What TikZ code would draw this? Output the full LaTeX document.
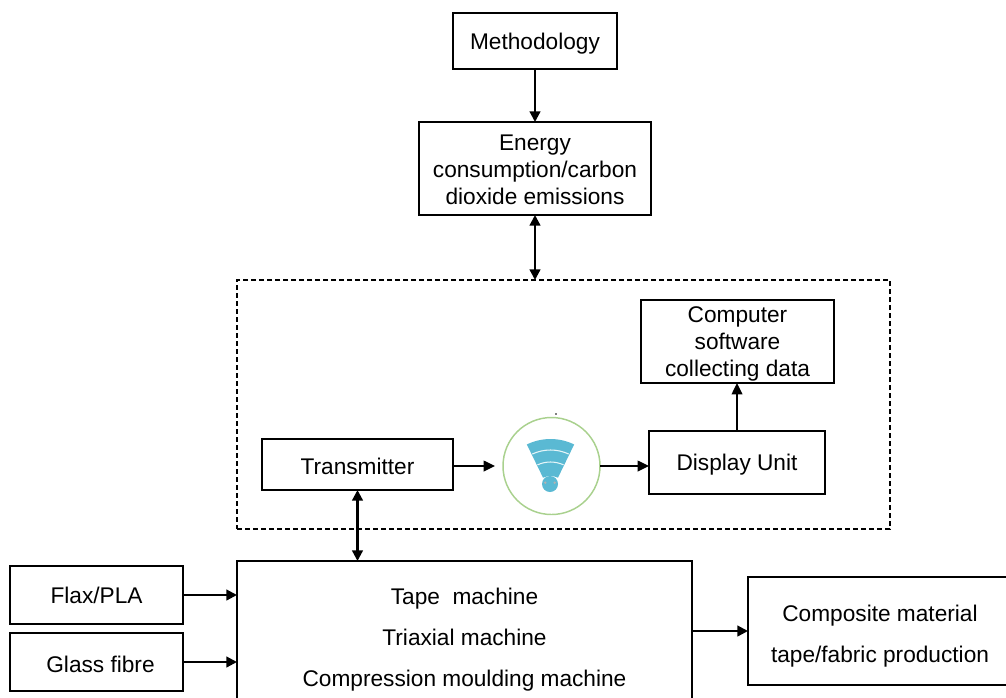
\documentclass[tikz,border=0pt]{standalone}
\usepackage{fontspec}
\setmainfont{Liberation Sans}
\usetikzlibrary{arrows.meta}
\definecolor{wifiblue}{HTML}{5AB9D3}
\definecolor{wifigreen}{HTML}{A9D18E}
\newcommand{\firstline}[1]{\rule{0pt}{#1}}
\tikzset{
	blockbox/.style={draw,line width=1.1pt,align=center,inner sep=0pt,outer sep=0pt,font=\fontsize{17}{20.25}\selectfont},
	wideline/.style={font=\fontsize{17}{30.75}\selectfont},
	link/.style={-{Triangle[length=8pt,width=8pt]},line width=1.7pt},
	thinlink/.style={-{Triangle[length=8.5pt,width=8pt]},line width=1.1pt},
	twolink/.style={{Triangle[length=8pt,width=8pt]}-{Triangle[length=8pt,width=8pt]},line width=1.7pt},
}
\begin{document}
\begin{tikzpicture}[x=0.75pt,y=-0.75pt]
\useasboundingbox (0,0) rectangle (1006,697);

\node[blockbox,minimum width=123pt,minimum height=42pt] (method) at (535,41) {\firstline{16.9pt}Methodology};
\node[blockbox,minimum width=174pt,minimum height=69.75pt] (energy) at (535,168.5) {\firstline{13.9pt}Energy\\consumption/carbon\\dioxide emissions};
\node[draw,line width=1.1pt,dash pattern=on 4pt off 2pt,inner sep=0pt,outer sep=0pt,minimum width=489.75pt,minimum height=186.75pt] (sensing) at (563.5,404.5) {};
\node[blockbox,minimum width=144.75pt,minimum height=62.25pt] (computer) at (737.5,341.5) {\firstline{15.4pt}Computer\\software\\collecting data};
\node[blockbox,minimum width=132pt,minimum height=47.25pt] (display) at (737,462.5) {\firstline{16.2pt}Display Unit};
\node[blockbox,minimum width=143.25pt,minimum height=38.25pt] (transmitter) at (357.5,464.5) {\firstline{15pt}Transmitter};
\node[draw=wifigreen,line width=1.1pt,circle,inner sep=0pt,outer sep=0pt,minimum size=72.75pt] (wifi) at (551.5,466) {};
\node[blockbox,wideline,minimum width=341.25pt,minimum height=113.25pt] (machines) at (464.5,636.5) {\firstline{16.9pt}Tape\ \ machine\\Triaxial machine\\Compression moulding machine};
\node[blockbox,minimum width=129.75pt,minimum height=43.5pt] (flax) at (96.5,595) {Flax/PLA};
\node[blockbox,minimum width=129.75pt,minimum height=43.5pt] (glass) at (96.5,662) {\firstline{16pt}\hspace{6pt}Glass fibre};
\node[blockbox,wideline,minimum width=198pt,minimum height=81pt] (composite) at (880,631) {\firstline{19.9pt}Composite material\\tape/fabric production};

% wifi sign
\begin{scope}[shift={(550.5,493)},y=0.75pt]
	\fill[wifiblue] (64:17) -- (64:54) arc (64:116:54) -- (116:17) arc (116:64:17) -- cycle;
	\foreach \r in {43,31}
		\draw[white!85!wifiblue,line width=0.8pt] (65:\r) arc (65:115:\r);
\end{scope}
\node[fill=wifiblue,circle,inner sep=0pt,minimum size=12pt] (wifidot) at (550,484) {};
\foreach \x in {-3.5,3.5}
	\fill[gray!60] ([xshift=\x pt,yshift=1pt]wifidot.center) circle (1pt);
\fill (556,414) circle (0.6pt);

\draw[link] (method) -- (energy);
\draw[twolink] (energy) -- (energy |- sensing.north);
\draw[twolink] (transmitter) -- (transmitter |- machines.north);
\draw[thinlink,shorten >=6pt] (transmitter.east |- wifi.west) -- (wifi.west);
\draw[thinlink] (wifi.east) -- (display.west |- wifi.east);
\draw[thinlink] (display) -- (display |- computer.south);
\draw[link] (flax) -- (flax -| machines.west);
\draw[link] (glass) -- (glass -| machines.west);
\draw[link] (machines.east |- composite.west) -- (composite.west);
\end{tikzpicture}
\end{document}
